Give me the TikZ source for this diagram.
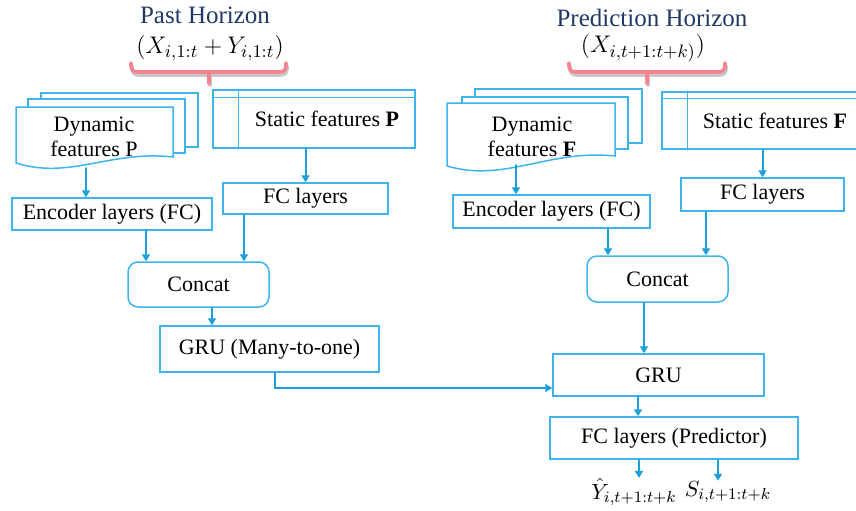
\documentclass[tikz,border=0pt]{standalone}
\usepackage{fontspec}
\setmainfont{Liberation Serif}
\usepackage{tikz}
\usetikzlibrary{arrows.meta,positioning}
\definecolor{boxblue}{HTML}{3DB5EB}
\definecolor{arrblue}{HTML}{1A9FDB}
\definecolor{navy}{HTML}{1F3864}
\definecolor{bracepink}{HTML}{F5868F}

\begin{document}
\begin{tikzpicture}[x=0.5pt,y=-0.5pt,line cap=round,
  box/.style={draw=boxblue,line width=0.75pt,fill=white,inner sep=0pt,font=\rmfamily\fontsize{11}{13}\selectfont},
  rbox/.style={box,rounded corners=5pt},
  page/.style={draw=boxblue,line width=0.75pt,fill=white},
  txt/.style={font=\rmfamily\fontsize{11}{12.5}\selectfont,align=center,inner sep=0pt},
  arr/.style={draw=arrblue,line width=1pt,-{Triangle[width=4pt,length=3.5pt]}},
  ttl/.style={navy,font=\rmfamily\fontsize{12.5}{14}\selectfont},
  bracem/.style={bracepink,line width=1.8pt,rounded corners=3pt},
  braceshadow/.style={black!22,line width=1.8pt,rounded corners=3pt}]
  \useasboundingbox (0,0) rectangle (856,510);
  \clip (0,0) rectangle (856,510);

  % horizons
  \node[ttl] (pastT) at (205,15) {Past Horizon};
  \node[font=\fontsize{12.5}{14}\selectfont] (pastM) at (210,48) {$(X_{i,1:t}+Y_{i,1:t})$};
  \node[ttl] (predT) at (652,18) {Prediction Horizon};
  \node[font=\fontsize{12.5}{14}\selectfont] (predM) at (643,48) {$(X_{i,t+1:t+k)})$};
  \draw[braceshadow] (132,66) -- (132,75) -- (287,75) -- (287,66);
  \draw[braceshadow] (210,75) -- (210,85);
  \draw[bracem] (131,63) -- (131,72) -- (286,72) -- (286,63);
  \draw[bracem] (209,72) -- (209,83);
  \draw[braceshadow] (570,66) -- (570,75) -- (726,75) -- (726,66);
  \draw[braceshadow] (648,75) -- (648,85);
  \draw[bracem] (569,63) -- (569,72) -- (725,72) -- (725,63);
  \draw[bracem] (647,72) -- (647,83);

  % past inputs
  \filldraw[page] (41,93) rectangle (198,147);
  \filldraw[page] (28,99) rectangle (185,153);
  \filldraw[page] (16,107) -- (173,107) -- (173,157) .. controls (110,150) and (70,180) .. (16,163) -- cycle;
  \node[txt] (dynP) at (94,137) {Dynamic\\features P};
  \coordinate (dynPout) at (86,168);
  \node[box,minimum width=101pt,minimum height=29pt] (statP) at (314,119) {};
  \draw[boxblue,line width=0.75pt] ([yshift=-4pt]statP.north west) -- ([yshift=-4pt]statP.north east);
  \draw[boxblue,line width=0.75pt] ([xshift=13pt]statP.north west) -- ([xshift=13pt]statP.south west);
  \node[txt] (statPtxt) at ([xshift=6.5pt]statP.center) {Static features \textbf{P}};

  \node[box,minimum width=100pt,minimum height=16pt] (encP) at (112,214) {Encoder layers (FC)};
  \node[box,minimum width=82.5pt,minimum height=15.5pt] (fcP) at (305.5,198.5) {FC layers};
  \node[rbox,minimum width=70.5pt,minimum height=22.5pt] (catP) at (198.5,284.5) {Concat};
  \node[box,minimum width=109.5pt,minimum height=23pt] (gruP) at (269.5,349) {GRU (Many-to-one)};

  % prediction inputs
  \filldraw[page] (475,89) rectangle (642,143);
  \filldraw[page] (462,97) rectangle (628,149);
  \filldraw[page] (447,103) -- (615,103) -- (615,156) .. controls (548,149) and (505,183) .. (447,166) -- cycle;
  \node[txt] (dynF) at (532,137) {Dynamic\\features \textbf{F}};
  \coordinate (dynFout) at (516,165);
  \node[box,minimum width=100pt,minimum height=28.5pt] (statF) at (762,120.5) {};
  \draw[boxblue,line width=0.75pt] ([yshift=-3.5pt]statF.north west) -- ([yshift=-3.5pt]statF.north east);
  \draw[boxblue,line width=0.75pt] ([xshift=13pt]statF.north west) -- ([xshift=13pt]statF.south west);
  \node[txt] (statFtxt) at ([xshift=6.5pt]statF.center) {Static features \textbf{F}};

  \node[box,minimum width=98.5pt,minimum height=16.5pt] (encF) at (551.5,211.5) {Encoder layers (FC)};
  \node[box,minimum width=81.5pt,minimum height=16.5pt] (fcF) at (762.5,194.5) {FC layers};
  \node[rbox,minimum width=70.5pt,minimum height=23pt] (catF) at (657.5,279) {Concat};
  \node[box,minimum width=105.5pt,minimum height=21pt] (gru) at (658.5,375) {GRU};
  \node[box,minimum width=124pt,minimum height=21pt] (pred) at (674,438) {FC layers (Predictor)};
  \node[inner sep=0pt,font=\fontsize{11}{13}\selectfont] (yhat) at (634,492) {$\hat{Y}_{i,t+1:t+k}$};
  \node[inner sep=0pt,font=\fontsize{11}{13}\selectfont] (sout) at (728,492) {$S_{i,t+1:t+k}$};

  % connectors
  \draw[arr] (dynPout) -- (dynPout |- encP.north);
  \draw[arr] (fcP.north |- statP.south) -- (fcP.north);
  \draw[arr] ([xshift=17pt]encP.south) -- ([xshift=17pt]encP.south |- catP.north);
  \draw[arr] ([xshift=-30.75pt]fcP.south) -- ([xshift=-30.75pt]fcP.south |- catP.north);
  \draw[arr] ([xshift=6.75pt]catP.south) -- ([xshift=6.75pt]catP.south |- gruP.north);
  \draw[arr] ([xshift=2.75pt]gruP.south) |- ([yshift=-6.5pt]gru.west);
  \draw[arr] (dynFout) -- (dynFout |- encF.north);
  \draw[arr] (fcF.north |- statF.south) -- (fcF.north);
  \draw[arr] ([xshift=28.25pt]encF.south) -- ([xshift=28.25pt]encF.south |- catF.north);
  \draw[arr] ([xshift=-28.25pt]fcF.south) -- ([xshift=-28.25pt]fcF.south |- catF.north);
  \draw[arr] ([xshift=-6.75pt]catF.south) -- ([xshift=-6.75pt]catF.south |- gru.north);
  \draw[arr] ([xshift=-10.25pt]gru.south) -- ([xshift=-10.25pt]gru.south |- pred.north);
  \draw[arr] ([xshift=-17.5pt]pred.south) -- ([xshift=-17.5pt]pred.south |- yhat.north);
  \draw[arr] ([xshift=22pt]pred.south) -- ([xshift=22pt]pred.south |- sout.north);
\end{tikzpicture}
\end{document}
